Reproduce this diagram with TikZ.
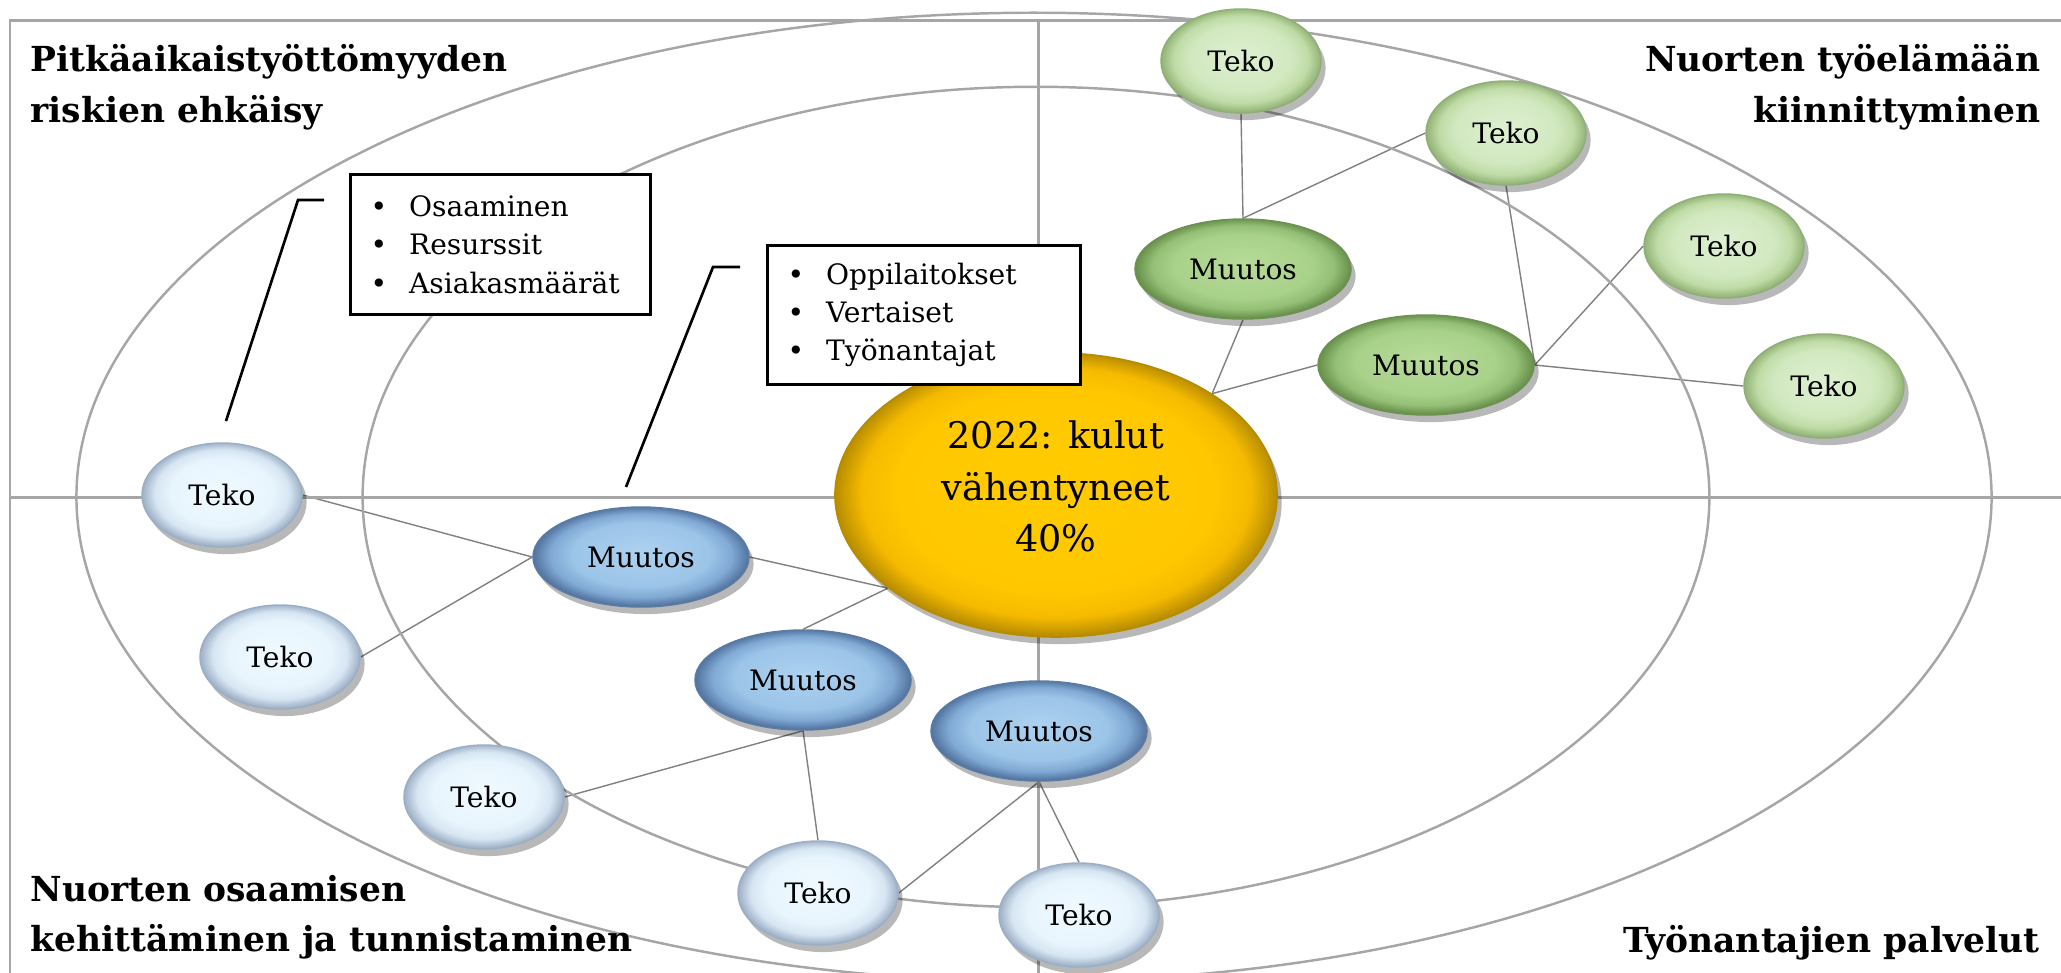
\documentclass[tikz,border=0pt]{standalone}
\usepackage{fontspec}
\setmainfont{DejaVu Serif}
\usetikzlibrary{shapes.geometric,shadows}
\pgfdeclarelayer{bg}
\pgfsetlayers{bg,main}

\pgfdeclareradialshading{shTekoG}{\pgfpoint{0bp}{3bp}}{rgb(0bp)=(0.87,0.94,0.82); rgb(16bp)=(0.82,0.91,0.75); rgb(21bp)=(0.75,0.86,0.65); rgb(25bp)=(0.57,0.70,0.46); rgb(29bp)=(0.42,0.54,0.33)}
\pgfdeclareradialshading{shMuutosG}{\pgfpoint{0bp}{3bp}}{rgb(0bp)=(0.72,0.86,0.60); rgb(16bp)=(0.66,0.82,0.54); rgb(21bp)=(0.58,0.75,0.46); rgb(25bp)=(0.40,0.56,0.29); rgb(29bp)=(0.27,0.40,0.19)}
\pgfdeclareradialshading{shTekoB}{\pgfpoint{0bp}{3bp}}{rgb(0bp)=(0.94,0.98,1.00); rgb(16bp)=(0.91,0.96,0.99); rgb(21bp)=(0.84,0.90,0.95); rgb(25bp)=(0.62,0.69,0.78); rgb(29bp)=(0.42,0.48,0.58)}
\pgfdeclareradialshading{shMuutosB}{\pgfpoint{0bp}{3bp}}{rgb(0bp)=(0.68,0.82,0.94); rgb(16bp)=(0.61,0.77,0.91); rgb(21bp)=(0.50,0.66,0.83); rgb(25bp)=(0.32,0.45,0.62); rgb(29bp)=(0.19,0.29,0.45)}
\pgfdeclareradialshading{shYellow}{\pgfpoint{0bp}{2bp}}{rgb(0bp)=(1.00,0.80,0.00); rgb(18bp)=(1.00,0.78,0.00); rgb(22bp)=(0.96,0.73,0.00); rgb(25bp)=(0.72,0.55,0.00); rgb(28bp)=(0.46,0.35,0.00)}

\newcommand\nodefnt{\fontsize{8}{9.6}\selectfont}
\newcommand\boxfnt{\fontsize{8}{10.9}\selectfont}
\newcommand\titlefnt{\fontsize{9.8}{14.3}\selectfont\bfseries}
\newcommand\centerfnt{\fontsize{10.4}{14.7}\selectfont}

\definecolor{axisgray}{HTML}{A6A6A6}
\definecolor{linkgray}{HTML}{808080}
\definecolor{rimG}{HTML}{8FAE78}
\definecolor{rimGd}{HTML}{6E9152}
\definecolor{rimB}{HTML}{9AAFC4}
\definecolor{rimBd}{HTML}{5A7BA3}
\definecolor{rimY}{HTML}{B58C00}

\tikzset{
  ball/.style={ellipse, inner sep=0pt, font=\nodefnt, line width=0.4pt,
    drop shadow={shadow xshift=1.3pt, shadow yshift=-2.0pt, opacity=0.28, fill=black}},
  tekoG/.style={ball, shading=shTekoG, draw=rimG, minimum width=1.60cm, minimum height=1.04cm},
  muutosG/.style={ball, shading=shMuutosG, draw=rimGd, minimum width=2.16cm, minimum height=1.00cm},
  tekoB/.style={ball, shading=shTekoB, draw=rimB, minimum width=1.60cm, minimum height=1.04cm},
  muutosB/.style={ball, shading=shMuutosB, draw=rimBd, minimum width=2.16cm, minimum height=1.00cm},
  goal/.style={ball, shading=shYellow, draw=rimY, minimum width=4.42cm, minimum height=2.84cm,
    font=\centerfnt, align=center, text depth=5pt},
  axisline/.style={draw=axisgray, line width=0.85pt},
  ring/.style={draw=axisgray, line width=0.7pt},
  link/.style={draw=linkgray, line width=0.4pt},
  leader/.style={draw=black, line width=0.75pt},
  calloutbox/.style={draw=black, line width=0.85pt, fill=white, rectangle, inner xsep=0.2cm, inner ysep=0pt,
    font=\boxfnt, align=left, anchor=north west},
  title/.style={font=\titlefnt, inner sep=0pt},
}

\begin{document}
\begin{tikzpicture}[x=0.01cm, y=-0.01cm]
\useasboundingbox (0,0) rectangle (2061,972);

\begin{scope}
\clip (0,0) rectangle (2061,972);
% frame and axes
\draw[axisline] (10,1000) -- (10,20) -- (2100,20);
\draw[axisline] (10,497) -- (2100,497);
\draw[axisline] (1038,20) -- (1038,1000);
% rings
\draw[ring] (1034,497) ellipse [x radius=9.57cm, y radius=4.84cm];
\draw[ring] (1036,497) ellipse [x radius=6.73cm, y radius=4.10cm];
\end{scope}

% centre
\node[goal] (C) at (1056,495) {2022: kulut\\vähentyneet\\40\%};

% green nodes
\node[tekoG] (gT1) at (1241,61) {Teko};
\node[tekoG] (gT2) at (1506,133) {Teko};
\node[tekoG] (gT3) at (1724,246) {Teko};
\node[tekoG] (gT4) at (1824,386) {Teko};
\node[muutosG] (gM1) at (1243,269) {Muutos};
\node[muutosG] (gM2) at (1426,365) {Muutos};

% blue nodes
\node[tekoB] (bT1) at (222,495) {Teko};
\node[tekoB] (bT2) at (280,657) {Teko};
\node[muutosB] (bM1) at (641,557) {Muutos};
\node[muutosB] (bM2) at (803,680) {Muutos};
\node[muutosB] (bM3) at (1039,731) {Muutos};
\node[tekoB] (bT3) at (484,797) {Teko};
\node[tekoB] (bT4) at (818,893) {Teko};
\node[tekoB] (bT5) at (1079,915) {Teko};

\coordinate (cG) at (C.33);
\coordinate (cB) at (C.209);

\begin{pgfonlayer}{bg}
  \draw[link] (gT1.south) -- (gM1.north);
  \draw[link] (gT2.west) -- (gM1.north);
  \draw[link] (gT2.south) -- (gM2.east);
  \draw[link] (gT3.west) -- (gM2.east);
  \draw[link] (gM2.east) -- (gT4.west);
  \draw[link] (gM1.south) -- (cG);
  \draw[link] (gM2.west) -- (cG);
  \draw[link] (bT1.east) -- (bM1.west);
  \draw[link] (bT2.east) -- (bM1.west);
  \draw[link] (bM1.east) -- (cB);
  \draw[link] (bM2.north) -- (cB);
  \draw[link] (bM2.south) -- (bT3.east);
  \draw[link] (bM2.south) -- (bT4.north);
  \draw[link] (bM3.south) -- (bT4.east);
  \draw[link] (bM3.south) -- (bT5.north);
\end{pgfonlayer}

% callouts
\node[calloutbox, minimum width=3.0cm, minimum height=1.40cm, text width=2.6cm] (box1) at (349,173)
  {•\hspace{0.22cm}Osaaminen\\•\hspace{0.22cm}Resurssit\\•\hspace{0.22cm}Asiakasmäärät};
\node[calloutbox, minimum width=3.13cm, minimum height=1.39cm, text width=2.73cm] (box2) at (766,244)
  {•\hspace{0.22cm}Oppilaitokset\\•\hspace{0.22cm}Vertaiset\\•\hspace{0.22cm}Työnantajat};
\coordinate (l1a) at (324,200);
\coordinate (l1b) at (298,200);
\coordinate (l1c) at (226,421);
\draw[leader] (l1a) -- (l1b) -- (l1c);
\coordinate (l2a) at (740,267);
\coordinate (l2b) at (713,267);
\coordinate (l2c) at (626,487);
\draw[leader] (l2a) -- (l2b) -- (l2c);

% titles
\node[title, anchor=north west, align=left] (tl) at (30,44) {Pitkäaikaistyöttömyyden\\riskien ehkäisy};
\node[title, anchor=north east, align=right] (tr) at (2041,44) {Nuorten työelämään\\kiinnittyminen};
\node[title, anchor=south west, align=left] (bl) at (30,960) {Nuorten osaamisen\\kehittäminen ja tunnistaminen};
\node[title, anchor=south east, align=right] (br) at (2040,961) {Työnantajien palvelut};
\end{tikzpicture}
\end{document}
